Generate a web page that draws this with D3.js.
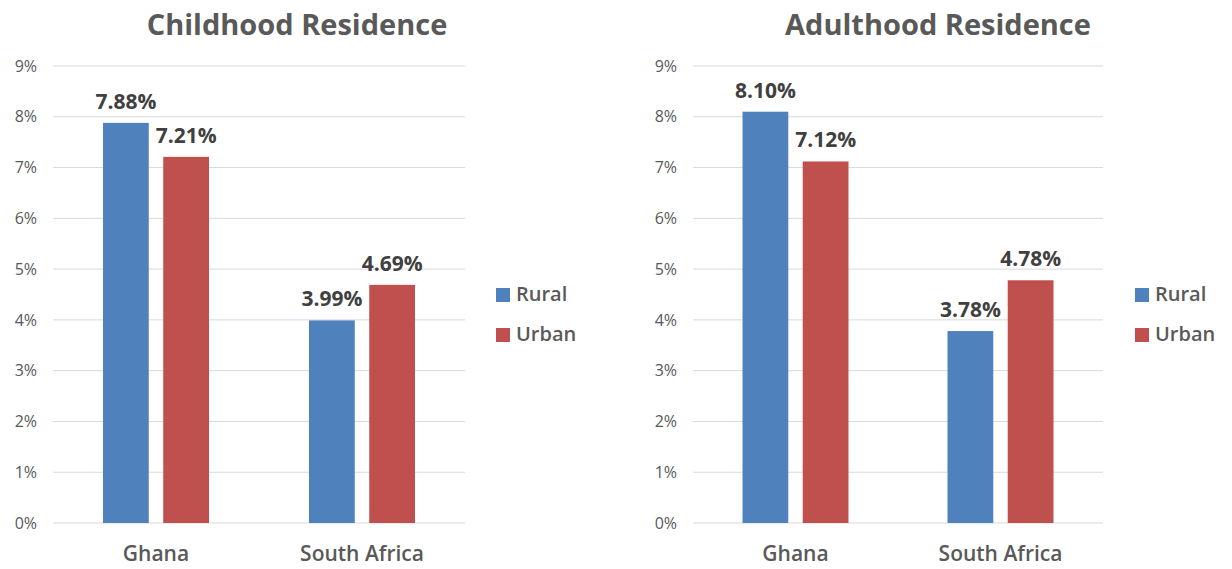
<!DOCTYPE html>
<html><head><meta charset="utf-8">
<script src="https://cdn.jsdelivr.net/npm/d3@7"></script>
<style>body{margin:0;background:#fff}svg{display:block}</style>
</head><body>
<svg id="c" width="1232" height="569"></svg>
<script>
const categories = ["Ghana", "South Africa"];
const seriesNames = ["Rural", "Urban"];
const childhoodRural = [7.88, 3.99];
const childhoodUrban = [7.21, 4.69];
const adulthoodRural = [8.10, 3.78];
const adulthoodUrban = [7.12, 4.78];
const yTicks = [0,1,2,3,4,5,6,7,8,9];
const titles = ["Childhood Residence", "Adulthood Residence"];

const colors = ["#4F81BD", "#C0504D"];
const FONT = "'Open Sans', 'Noto Sans', sans-serif";
const svg = d3.select("#c");

const panels = [
  {title: titles[0], rural: childhoodRural, urban: childhoodUrban, x0: 53, x1: 465, titleX: 297, legX: 496},
  {title: titles[1], rural: adulthoodRural, urban: adulthoodUrban, x0: 693, x1: 1103, titleX: 938, legX: 1135}
];

panels.forEach(p => {
  const g = svg.append("g");
  const y = d3.scaleLinear().domain([0, 9]).range([523, 66]);
  const x = d3.scaleBand().domain(categories).range([p.x0, p.x1]);
  const xs = d3.scaleBand().domain(seriesNames).range([-53, 53]).paddingInner(0.24);

  // gridlines
  g.selectAll("line.grid").data(yTicks).join("line")
    .attr("x1", p.x0).attr("x2", p.x1)
    .attr("y1", d => y(d)).attr("y2", d => y(d))
    .attr("stroke", "#D9D9D9").attr("stroke-width", 1);

  // y axis labels
  const yAxis = d3.axisLeft(y).tickValues(yTicks).tickFormat(d => d + "%").tickSize(0).tickPadding(16);
  const ya = g.append("g").attr("transform", `translate(${p.x0},0)`).call(yAxis);
  ya.select(".domain").remove();
  ya.selectAll("text").attr("font-family", FONT).attr("font-size", 16).attr("fill", "#595959");

  // x axis labels
  const xAxis = d3.axisBottom(x).tickSize(0).tickPadding(23);
  const xa = g.append("g").attr("transform", `translate(0,${y(0)})`).call(xAxis);
  xa.select(".domain").remove();
  xa.selectAll("text").attr("font-family", FONT).attr("font-size", 21).attr("font-weight", 600).attr("fill", "#595959");

  // bars
  const rows = [];
  categories.forEach((c, i) => {
    rows.push({cat: c, s: "Rural", v: p.rural[i], col: colors[0]});
    rows.push({cat: c, s: "Urban", v: p.urban[i], col: colors[1]});
  });
  g.selectAll("rect.bar").data(rows).join("rect")
    .attr("x", d => x(d.cat) + x.bandwidth()/2 + xs(d.s))
    .attr("width", xs.bandwidth())
    .attr("y", d => y(d.v))
    .attr("height", d => y(0) - y(d.v))
    .attr("fill", d => d.col);

  // value labels
  g.selectAll("text.val").data(rows).join("text")
    .attr("x", d => x(d.cat) + x.bandwidth()/2 + xs(d.s) + xs.bandwidth()/2)
    .attr("y", d => y(d.v) - 14)
    .attr("text-anchor", "middle")
    .attr("font-family", FONT).attr("font-size", 21).attr("font-weight", 700)
    .attr("fill", "#404040")
    .text(d => d.v.toFixed(2) + "%");

  // title
  g.append("text").attr("x", p.titleX).attr("y", 35).attr("text-anchor", "middle")
    .attr("font-family", FONT).attr("font-size", 29).attr("font-weight", 700).attr("fill", "#595959")
    .text(p.title);

  // legend
  seriesNames.forEach((s, i) => {
    g.append("rect").attr("x", p.legX).attr("y", 288 + i*40).attr("width", 14).attr("height", 14).attr("fill", colors[i]);
    g.append("text").attr("x", p.legX + 20).attr("y", 301 + i*40)
      .attr("font-family", FONT).attr("font-size", 20).attr("font-weight", 600).attr("fill", "#595959")
      .text(s);
  });
});
</script>
</body></html>
